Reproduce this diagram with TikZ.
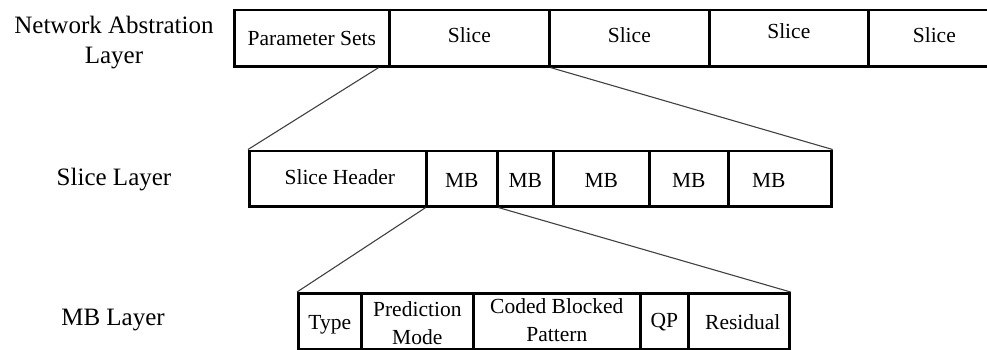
\documentclass[tikz,border=0pt]{standalone}
\usepackage{fontspec}
\setmainfont{Liberation Serif}
\usetikzlibrary{calc}
\begin{document}
\begin{tikzpicture}[x=1pt,y=-1pt,
  cell/.style={draw=black, line width=2.6pt, inner sep=0pt, anchor=north west},
  txt/.style={font=\fontsize{21.5}{28}\selectfont, align=center, inner sep=0pt},
  layer/.style={font=\fontsize{25}{30}\selectfont, align=center},
  zoomline/.style={draw=black!75, line width=1.1pt}]
\useasboundingbox (0,0) rectangle (987,349);
\clip (0,0) rectangle (987,349);

% row tops and heights
\def\ta{8.5}\def\ha{56.5}
\def\tb{149.5}\def\hb{55.5}
\def\tc{292}\def\hc{56}

% layer labels
\node[layer] (lnal) at (114,43) {Network Abstration\\Layer};
\node[layer] (lslice) at (114,180) {Slice Layer};
\node[layer] (lmb) at (113,320) {MB Layer};

% network abstraction layer (text as centred labels, nudged per cell)
\node[cell, minimum width=155, minimum height=\ha,
  label={[txt]center:Parameter Sets}] (ps) at (233,\ta) {};
\node[cell, minimum width=160, minimum height=\ha,
  label={[txt, yshift=3pt]center:Slice}] (s1) at (388,\ta) {};
\node[cell, minimum width=160, minimum height=\ha,
  label={[txt, yshift=3pt]center:Slice}] (s2) at (548,\ta) {};
\node[cell, minimum width=159, minimum height=\ha,
  label={[txt, yshift=7pt]center:Slice}] (s3) at (708,\ta) {};
\node[cell, minimum width=160, minimum height=\ha,
  label={[txt, xshift=-14pt, yshift=3pt]center:Slice}] (s4) at (867,\ta) {};

% slice layer
\node[cell, minimum width=177, minimum height=\hb,
  label={[txt, xshift=2pt, yshift=1pt]center:Slice Header}] (sh) at (248,\tb) {};
\node[cell, minimum width=71, minimum height=\hb,
  label={[txt, yshift=-2pt]center:MB}] (mb1) at (425,\tb) {};
\node[cell, minimum width=56, minimum height=\hb,
  label={[txt, yshift=-2pt]center:MB}] (mb2) at (496,\tb) {};
\node[cell, minimum width=96, minimum height=\hb,
  label={[txt, yshift=-2pt]center:MB}] (mb3) at (552,\tb) {};
\node[cell, minimum width=79, minimum height=\hb,
  label={[txt, yshift=-2pt]center:MB}] (mb4) at (648,\tb) {};
\node[cell, minimum width=103, minimum height=\hb,
  label={[txt, xshift=-11pt, yshift=-2pt]center:MB}] (mb5) at (727,\tb) {};

% macroblock layer
\node[cell, minimum width=63, minimum height=\hc,
  label={[txt, yshift=-3pt]center:Type}] (ty) at (297,\tc) {};
\node[cell, minimum width=112, minimum height=\hc,
  label={[txt, yshift=-2pt]center:{Prediction\\Mode}}] (pm) at (360,\tc) {};
\node[cell, minimum width=167, minimum height=\hc,
  label={[txt, yshift=1pt]center:{Coded Blocked\\Pattern}}] (cbp) at (472,\tc) {};
\node[cell, minimum width=48, minimum height=\hc,
  label={[txt, yshift=-1pt]center:QP}] (qp) at (639,\tc) {};
\node[cell, minimum width=101, minimum height=\hc,
  label={[txt, xshift=4pt, yshift=-1pt]center:Residual}] (res) at (687,\tc) {};

% expansion lines
\draw[zoomline] ($(ps.south east)+(-12,0)$) -- (sh.north west);
\draw[zoomline] (s1.south east) -- (mb5.north east);
\draw[zoomline] ($(sh.south east)+(-2,0)$) -- (ty.north west);
\draw[zoomline] (mb1.south east) -- (res.north east);
\end{tikzpicture}
\end{document}
